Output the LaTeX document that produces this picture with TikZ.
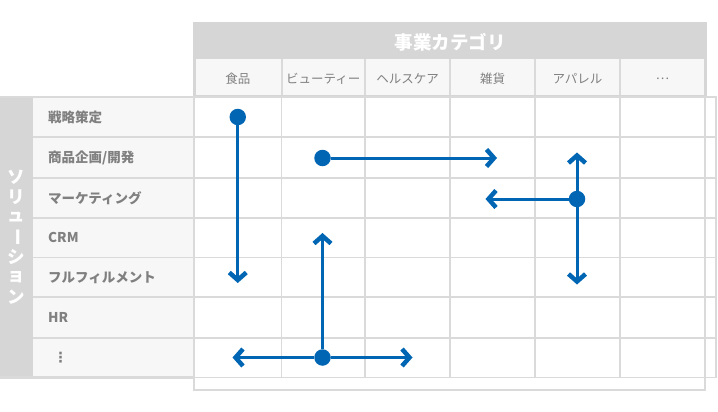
\documentclass[tikz,border=0pt]{standalone}
\usepackage{fontspec}
\setmainfont{Noto Sans CJK JP}
\newfontfamily\dejavu{DejaVu Sans}
\usetikzlibrary{arrows.meta}
\definecolor{gridc}{HTML}{DADADA}
\definecolor{bandc}{HTML}{D6D6D6}
\definecolor{cellc}{HTML}{F7F7F7}
\definecolor{txtc}{HTML}{808080}
\definecolor{bluec}{HTML}{0066B3}
\begin{document}
\begin{tikzpicture}[x=1pt,y=-1pt,
  colhead/.style={font=\fontsize{12.5}{14}\selectfont, text=txtc, inner sep=0pt},
  rowlabel/.style={font=\bfseries\fontsize{13.5}{15}\selectfont, text=txtc, anchor=west, inner sep=0pt},
  vchar/.style={font=\bfseries\fontsize{17.5}{20}\selectfont, text=white, inner sep=0pt},
  gline/.style={draw=gridc, line width=1.6pt},
  fline/.style={draw=gridc, line width=2.4pt},
  dotnode/.style={circle, fill=bluec, minimum size=16.5pt, inner sep=0pt},
  flow/.style={draw=bluec, line width=3pt, -{Straight Barb[length=7.5pt,width=17pt,line width=4.5pt]}}]
\useasboundingbox (0,0) rectangle (718,412);
% header band
\fill[bandc] (193,22) rectangle (707,97);
\fill[cellc] (196,59) rectangle (704,95);
\foreach \cx in {281.5,365,450,535,620}{\draw[gline, line width=2pt] (\cx,59) -- (\cx,95);}
\node[font=\bfseries\fontsize{18.5}{20}\selectfont, text=white, inner sep=0pt] (title) at (450,42) {事業カテゴリ};
\node[colhead] (c1) at (237.75,79) {食品};
\node[colhead] (c2) at (323.25,79) {ビューティー};
\node[colhead] (c3) at (407.5,79) {ヘルスケア};
\node[colhead] (c4) at (492.5,79) {雑貨};
\node[colhead] (c5) at (577.5,79) {アパレル};
\node[colhead] (c6) at (662.5,79) {…};
% row header
\fill[bandc] (0,97) rectangle (33,378);
\fill[cellc] (33,97) rectangle (193,378);
\foreach \ry in {137,178,218,257.5,297,338}{\draw[gline] (33,\ry) -- (193,\ry);}
\draw[fline] (0,97) -- (194,97);
\draw[fline] (0,377.5) -- (194,377.5);
\node[vchar] (s1) at (16,177) {ソ};
\node[vchar] (s2) at (16,197) {リ};
\node[vchar] (s3) at (16,217) {ュ};
\node[vchar, rotate=-90] (s4) at (16,237) {ー};
\node[vchar] (s5) at (16,257) {シ};
\node[vchar] (s6) at (16,277) {ョ};
\node[vchar] (s7) at (16,297) {ン};
\node[rowlabel] (r1) at (48,117) {戦略策定};
\node[rowlabel] (r2) at (48,157.5) {商品企画/開発};
\node[rowlabel] (r3) at (48,198) {マーケティング};
\node[rowlabel] (r4) at (48,237.75) {CRM};
\node[rowlabel] (r5) at (48,277.25) {フルフィルメント};
\node[rowlabel] (r6) at (48,317.5) {HR};
\node[font=\dejavu\bfseries\fontsize{14}{16}\selectfont, text=txtc, inner sep=0pt] (r7) at (60.5,357.75) {⋮};
% body grid
\foreach \ry in {137,178,218,257.5,297,338,377.5}{\draw[gline] (194,\ry) -- (716,\ry);}
\foreach \cx in {281.5,365,450,535,620}{\draw[gline] (\cx,97) -- (\cx,377.5);}
\draw[fline] (194,97) -- (716,97) -- (716,377.5);
\draw[fline] (194,97) -- (194,390) -- (705,390) -- (705,97);
% flows
\node[dotnode] (d1) at (237.75,117) {};
\coordinate (e1) at (237.75,283);
\draw[flow] (d1) -- (e1);
\node[dotnode] (d2) at (322.5,158) {};
\coordinate (e2) at (497,158);
\draw[flow] (d2) -- (e2);
\node[dotnode] (d3) at (577,199) {};
\coordinate (e3u) at (577,152.5);
\coordinate (e3l) at (485.5,199);
\coordinate (e3d) at (577,284.5);
\draw[flow] (d3) -- (e3u);
\draw[flow] (d3) -- (e3l);
\draw[flow] (d3) -- (e3d);
\node[dotnode] (d4) at (322.5,357.5) {};
\coordinate (e4u) at (322.5,233);
\coordinate (e4l) at (232.5,357.5);
\coordinate (e4r) at (412.5,357.5);
\draw[flow] (d4) -- (e4u);
\draw[flow] (d4) -- (e4l);
\draw[flow] (d4) -- (e4r);
\end{tikzpicture}
\end{document}
